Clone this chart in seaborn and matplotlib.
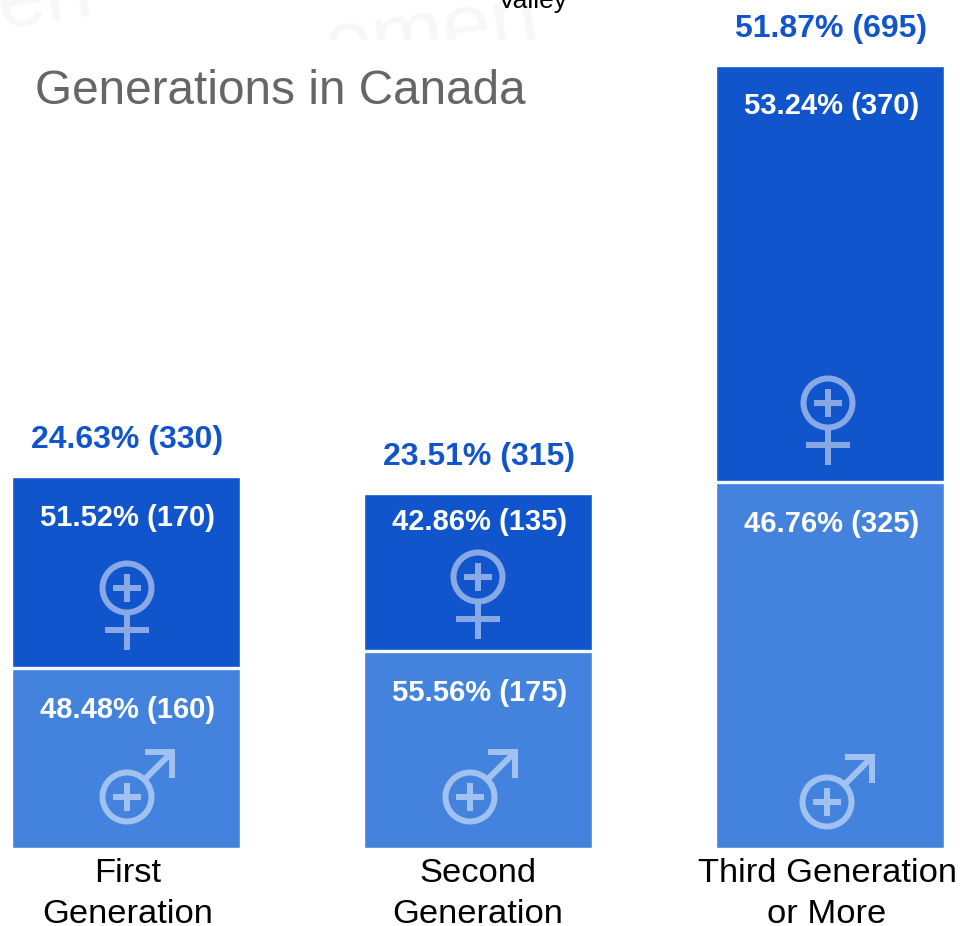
# Loading libraries
import numpy as np
import pandas as pd
import seaborn as sns
import matplotlib.pyplot as plt
from matplotlib.patches import Circle
from matplotlib.transforms import Affine2D, Bbox

# Chart data
generations = ['First\nGeneration', 'Second\nGeneration', 'Third Generation\nor More']
total_counts = [330, 315, 695]
female_counts = [170, 135, 370]
male_counts = [160, 175, 325]
total_labels = ['24.63% (330)', '23.51% (315)', '51.87% (695)']
female_labels = ['51.52% (170)', '42.86% (135)', '53.24% (370)']
male_labels = ['48.48% (160)', '55.56% (175)', '46.76% (325)']

df = pd.DataFrame({'generation': generations, 'total': total_counts, 'male': male_counts})

DARK = '#1155cc'
LIGHT = '#4383dd'
W, H = 960, 926

sns.set_theme(style='white')
plt.rcParams['font.family'] = ['Liberation Sans', 'DejaVu Sans']

fig = plt.figure(figsize=(W / 100, H / 100), dpi=100)
# axes run from the bar baseline to the top of the image
ax = fig.add_axes([0, (H - 848) / H, 1, 848 / H])

# Stacked bars: total in dark, male part on top in light
sns.barplot(data=df, x='generation', y='total', color=DARK, saturation=1, width=0.648, ax=ax)
sns.barplot(data=df, x='generation', y='male', color=LIGHT, saturation=1, width=0.648, ax=ax)

ax.set_xlim(-126 / 352, (W - 126) / 352)
ax.set_ylim(0, 848 / 1.125)
ax.set_xlabel('')
ax.set_ylabel('')
ax.set_yticks([])
ax.tick_params(axis='x', length=0, pad=7, labelsize=24.8, labelcolor='black')
tick_shift = [2, 0, -3]  # labels are not quite centred under the bars
for t, shift in zip(ax.get_xticklabels(), tick_shift):
    t.set_linespacing(1.42)
    t.set_transform(t.get_transform() + Affine2D().translate(shift, 0))
sns.despine(ax=ax, left=True, bottom=True, top=True, right=True)

# White line between the two parts
ax.hlines(male_counts, np.arange(3) - 0.324, np.arange(3) + 0.324, color='#f4f9fd', lw=2.4, zorder=3)

# Value labels, offsets in pixels converted to points
px = 0.72
female_off = [41, 28, 40]
for i in range(3):
    ax.annotate(total_labels[i], (i, total_counts[i]), xytext=(1, 37 * px), textcoords='offset points',
                ha='center', va='center', color=DARK, fontsize=23, fontweight='bold')
    ax.annotate(female_labels[i], (i, total_counts[i]), xytext=(1, -female_off[i] * px), textcoords='offset points',
                ha='center', va='center', color='white', fontsize=21, fontweight='bold')
    ax.annotate(male_labels[i], (i, male_counts[i]), xytext=(1, -42 * px), textcoords='offset points',
                ha='center', va='center', color='white', fontsize=21, fontweight='bold')


# Gender icons, drawn in pixels around a centre
def ring_and_plus(tr, color):
    ax.add_patch(Circle((0, 0), 24.5, fill=False, ec=color, lw=6 * px, transform=tr, zorder=4))
    ax.plot([-14, 14], [0, 0], color=color, lw=6 * px, transform=tr, solid_capstyle='butt', zorder=4)
    ax.plot([0, 0], [-14, 14], color=color, lw=6 * px, transform=tr, solid_capstyle='butt', zorder=4)


def female_icon(cx, cy):
    tr = Affine2D().translate(cx, H - cy)
    color = '#88a9e6'
    ring_and_plus(tr, color)
    ax.plot([0, 0], [-27, -62], color=color, lw=6 * px, transform=tr, solid_capstyle='butt', zorder=4)
    ax.plot([-22, 22], [-42, -42], color=color, lw=6 * px, transform=tr, solid_capstyle='butt', zorder=4)


def male_icon(cx, cy):
    tr = Affine2D().translate(cx, H - cy)
    color = '#a1c2f0'
    ring_and_plus(tr, color)
    ax.plot([18, 44], [18, 44], color=color, lw=6 * px, transform=tr, solid_capstyle='butt', zorder=4)
    ax.plot([18, 45, 45], [45, 45, 19], color=color, lw=6 * px, transform=tr,
            solid_capstyle='butt', solid_joinstyle='miter', zorder=4)


for cx, cy in [(127, 588), (478, 577), (828, 403)]:
    female_icon(cx, cy)
for cx, cy in [(127, 797), (470, 797), (827, 802)]:
    male_icon(cx, cy)

# Title and the bits around it
fig.text(35 / W, 1 - 91 / H, 'Generations in Canada', color='#666666', fontsize=34.4, ha='left', va='center')
fig.text(533 / W, 1 - 1 / H, 'Valley', color='black', fontsize=19, ha='center', va='center')

# Faint watermarks
wm1 = fig.text(45 / W, 1 - 0 / H, 'en', color='#f7f7f7', fontsize=62, rotation=8, ha='center', va='center', zorder=0)
wm2 = fig.text(432 / W, 1 - 35 / H, 'emen', color='#f7f7f7', fontsize=62, rotation=8, ha='center', va='center', zorder=0)
wm2.set_clip_box(Bbox([[0, H - 40], [W, H]]))
wm2.set_clip_on(True)

fig.savefig('out.png', dpi=100)
